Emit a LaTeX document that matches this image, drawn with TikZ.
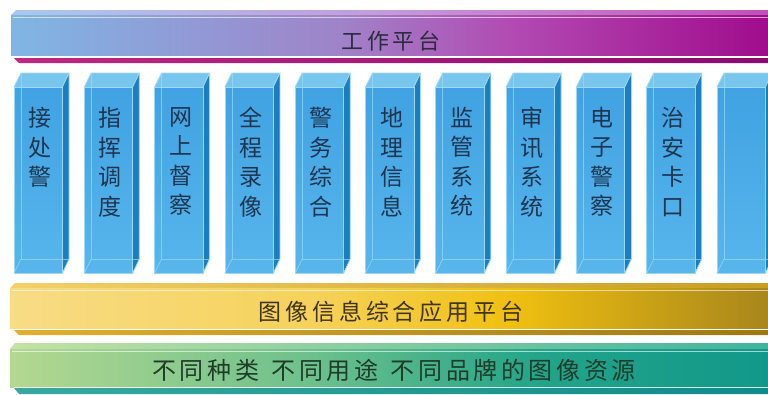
\documentclass[tikz,border=0pt]{standalone}
\usepackage{fontspec}
\setmainfont{Noto Sans CJK SC}
\definecolor{txt}{HTML}{1E3550}
\definecolor{toptxt}{HTML}{2C2C40}
\definecolor{yeltxt}{HTML}{3E3416}
\definecolor{grntxt}{HTML}{1E3C28}
\definecolor{colside}{HTML}{1C7EC2}
\definecolor{coltop}{HTML}{78C6EE}
\definecolor{coledge}{HTML}{9ADAF6}
\definecolor{colf1}{HTML}{40A2E2}
\definecolor{colf2}{HTML}{58B6EC}
\definecolor{t1}{HTML}{80B6E4}\definecolor{t2}{HTML}{A082C8}\definecolor{t3}{HTML}{B24AB2}\definecolor{t4}{HTML}{A00C8C}
\definecolor{tb1}{HTML}{A8CAEC}\definecolor{tb2}{HTML}{C49AD8}\definecolor{tb3}{HTML}{C050B8}
\definecolor{ts1}{HTML}{C02880}\definecolor{ts2}{HTML}{8A0A70}
\definecolor{y1}{HTML}{F8DC86}\definecolor{y2}{HTML}{F6D25A}\definecolor{y3}{HTML}{F0C010}\definecolor{y4}{HTML}{A8861C}
\definecolor{yb1}{HTML}{F4D06A}\definecolor{yb2}{HTML}{C89E20}
\definecolor{ys1}{HTML}{E0B030}\definecolor{ys2}{HTML}{9A7A14}
\definecolor{g1}{HTML}{B4D890}\definecolor{g2}{HTML}{6CC08C}\definecolor{g3}{HTML}{22A48A}\definecolor{g4}{HTML}{12988A}
\definecolor{gb1}{HTML}{C4E2A4}\definecolor{gb2}{HTML}{40B49E}
\definecolor{gs1}{HTML}{3AA8A0}\definecolor{gs2}{HTML}{108C88}
\pgfdeclarehorizontalshading{topsh}{100bp}{color(0bp)=(t1); color(25bp)=(t1); color(47bp)=(t2); color(58bp)=(t3); color(75bp)=(t4); color(100bp)=(t4)}
\pgfdeclarehorizontalshading{topbev}{100bp}{color(0bp)=(tb1); color(25bp)=(tb1); color(50bp)=(tb2); color(75bp)=(tb3); color(100bp)=(tb3)}
\pgfdeclarehorizontalshading{topstr}{100bp}{color(0bp)=(ts1); color(25bp)=(ts1); color(75bp)=(ts2); color(100bp)=(ts2)}
\pgfdeclarehorizontalshading{yelsh}{100bp}{color(0bp)=(y1); color(25bp)=(y1); color(45bp)=(y2); color(58bp)=(y3); color(75bp)=(y4); color(100bp)=(y4)}
\pgfdeclarehorizontalshading{yelbev}{100bp}{color(0bp)=(yb1); color(25bp)=(yb1); color(75bp)=(yb2); color(100bp)=(yb2)}
\pgfdeclarehorizontalshading{yelstr}{100bp}{color(0bp)=(ys1); color(25bp)=(ys1); color(75bp)=(ys2); color(100bp)=(ys2)}
\pgfdeclarehorizontalshading{grnsh}{100bp}{color(0bp)=(g1); color(25bp)=(g1); color(45bp)=(g2); color(60bp)=(g3); color(75bp)=(g4); color(100bp)=(g4)}
\pgfdeclarehorizontalshading{grnbev}{100bp}{color(0bp)=(gb1); color(25bp)=(gb1); color(75bp)=(gb2); color(100bp)=(gb2)}
\pgfdeclarehorizontalshading{grnstr}{100bp}{color(0bp)=(gs1); color(25bp)=(gs1); color(75bp)=(gs2); color(100bp)=(gs2)}
\tikzset{
  barbox/.style={rectangle, shade, anchor=north west, inner sep=0pt, minimum width=758pt},
  bartext/.style={inner sep=0pt},
  colface/.style={rectangle, anchor=north west, inner sep=0pt, minimum width=48pt, minimum height=186pt, top color=colf1, bottom color=colf2},
  collab/.style={anchor=north, inner sep=0pt, align=center, text=txt, font=\fontsize{23}{29.5}\selectfont},
  hidden/.style={draw=coledge, opacity=0.7, line width=0.8pt}
}
\begin{document}
\begin{tikzpicture}[x=1pt,y=-1pt]
\useasboundingbox (0,0) rectangle (768,394);
\clip (0,0) rectangle (768,394);
\fill[white] (0,0) rectangle (768,394);
% ---------- top bar
\shade[shading=topbev] (11,15) -- (16,10) -- (770,10) -- (770,15) -- cycle;
\node[barbox, shading=topsh, minimum height=40pt] (work) at (11,15) {};
\draw[white, opacity=0.6, line width=0.8pt] (13,17) -- (770,17);
\shade[shading=topstr] (14,58) -- (770,58) -- (770,63) -- (19,63) -- cycle;
\draw[white, opacity=0.7, line width=1pt] (14,57) -- (770,57);
\node[bartext, text=toptxt, font=\fontsize{22}{26}\selectfont\addfontfeatures{LetterSpace=18}] (worktxt) at (391,41) {工作平台};
% ---------- columns
\foreach \i/\t in {0/{接\\处\\警}, 1/{指\\挥\\调\\度}, 2/{网\\上\\督\\察}, 3/{全\\程\\录\\像}, 4/{警\\务\\综\\合}, 5/{地\\理\\信\\息}, 6/{监\\管\\系\\统}, 7/{审\\讯\\系\\统}, 8/{电\\子\\警\\察}, 9/{治\\安\\卡\\口}, 10/{}} {
  \pgfmathsetmacro{\xx}{14+70.3*\i}
  \fill[colside] (\xx+48,87) -- (\xx+55,73) -- (\xx+55,259) -- (\xx+48,273) -- cycle;
  \fill[coltop] (\xx,87) -- (\xx+7,73) -- (\xx+55,73) -- (\xx+48,87) -- cycle;
  \node[colface] (col\i) at (\xx,87) {};
  \draw[hidden] (\xx+7,73) -- (\xx+7,259) -- (\xx+55,259);
  \draw[hidden] (\xx,273) -- (\xx+7,259);
  \draw[coledge, line width=0.8pt] (col\i.south west) rectangle (col\i.north east);
  \draw[coledge, line width=0.8pt] (col\i.north west) -- (\xx+7,73) -- (\xx+55,73) -- (col\i.north east);
  \draw[coledge, line width=0.8pt] (\xx+55,73) -- (\xx+55,259) -- (col\i.south east);
  \node[collab] (lab\i) at (\xx+26,107) {\t};
}
% ---------- yellow bar
\shade[shading=yelbev] (10,288) -- (15,283) -- (770,283) -- (770,288) -- cycle;
\node[barbox, shading=yelsh, minimum height=40pt] (app) at (10,288) {};
\draw[white, opacity=0.6, line width=0.8pt] (12,290) -- (770,290);
\draw[white, opacity=0.8, line width=1pt] (14,329) -- (770,329);
\shade[shading=yelstr] (14,330) -- (770,330) -- (770,335) -- (19,335) -- cycle;
\node[bartext, text=yeltxt, font=\fontsize{23}{26}\selectfont\addfontfeatures{LetterSpace=17}] (apptxt) at (391,312) {图像信息综合应用平台};
% ---------- green bar
\shade[shading=grnbev] (10,349) -- (15,343) -- (770,343) -- (770,349) -- cycle;
\node[barbox, shading=grnsh, minimum height=38pt] (src) at (10,349) {};
\draw[white, opacity=0.6, line width=0.8pt] (12,351) -- (770,351);
\draw[white, opacity=0.8, line width=1pt] (14,387.5) -- (770,387.5);
\shade[shading=grnstr] (14,388) -- (770,388) -- (770,394) -- (19,394) -- cycle;
\node[bartext, text=grntxt, font=\fontsize{24}{26}\selectfont\addfontfeatures{LetterSpace=15}] (srctxt) at (394,370) {不同种类\hspace{12.5pt}不同用途\hspace{12.5pt}不同品牌的图像资源};
\end{tikzpicture}
\end{document}
